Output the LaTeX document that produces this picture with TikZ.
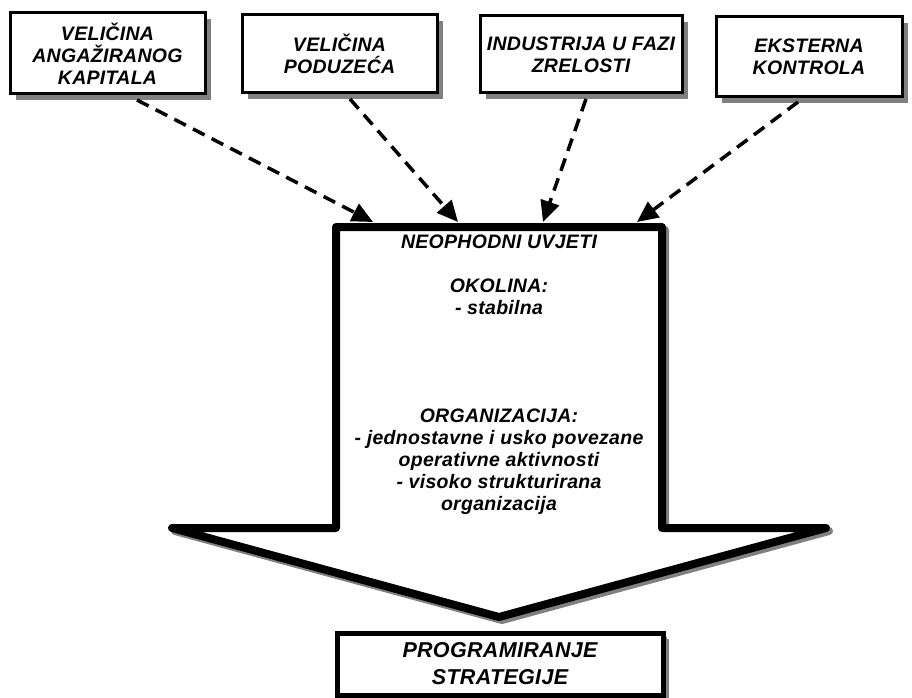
\documentclass[tikz,border=0pt]{standalone}
\usepackage{fontspec}
\setmainfont{Liberation Sans}[LetterSpace=1.5]
\usetikzlibrary{positioning, shadows, arrows.meta}

\tikzset{
  label-font/.style={font=\fontsize{19.5}{22}\selectfont\bfseries\itshape},
  factor-box/.style={draw, line width=3pt, fill=white, align=center,
    inner sep=0pt, label-font,
    drop shadow={shadow xshift=6pt, shadow yshift=-6pt, fill=black!50, opacity=1}},
  influence/.style={line width=3.5pt, dash pattern=on 13pt off 8pt,
    -{Triangle[length=21pt, width=19pt]}},
}

\begin{document}
\begin{tikzpicture}[x=1pt, y=-1pt]
    \useasboundingbox (0,0) rectangle (912,698);

    % factors on top
    \node[factor-box, minimum width=195pt, minimum height=81pt] (kapital)
      at (107.5,53.5) {VELIČINA\\ANGAŽIRANOG\\KAPITALA};
    \node[factor-box, minimum width=195pt, minimum height=78pt] (poduzece)
      at (339.5,54) {VELIČINA\\PODUZEĆA};
    \node[factor-box, minimum width=202pt, minimum height=77pt] (industrija)
      at (581,54.5) {INDUSTRIJA U FAZI\\ZRELOSTI};
    \node[factor-box, minimum width=186pt, minimum height=80pt] (kontrola)
      at (809,57) {EKSTERNA\\KONTROLA};

    % big arrow
    \draw[line width=8pt, line join=round, black!50, shift={(3,3)}]
      (336,227) -- (662,227) -- (662,528) -- (826,528) -- (499,617)
      -- (172,528) -- (336,528) -- cycle;
    \draw[line width=8pt, line join=round, fill=white]
      (336,227) -- (662,227) -- (662,528) -- (826,528) -- (499,617)
      -- (172,528) -- (336,528) -- cycle;

    \node[label-font] (uvjeti) at (499,242) {NEOPHODNI UVJETI};
    \node[label-font, align=center] (okolina) at (499,297)
      {OKOLINA:\\- stabilna};
    \node[label-font, align=center] (organizacija) at (499,462)
      {ORGANIZACIJA:\\- jednostavne i usko povezane\\operativne aktivnosti\\
       - visoko strukturirana\\organizacija};

    % influences
    \coordinate (kapital-out) at (137,100);
    \coordinate (poduzece-out) at (350,99);
    \coordinate (industrija-out) at (586,99);
    \coordinate (kontrola-out) at (798,102);
    \coordinate (kapital-in) at (373,222);
    \coordinate (poduzece-in) at (458,222);
    \coordinate (industrija-in) at (543,222);
    \coordinate (kontrola-in) at (637,222);
    \foreach \f in {kapital, poduzece, industrija, kontrola}{
      \draw[influence] (\f-out) -- (\f-in);
    }

    % result
    \node[factor-box, line width=5pt, minimum width=326pt, minimum height=62pt,
      font=\fontsize{21.5}{27}\selectfont\bfseries\itshape,
      drop shadow={shadow xshift=4pt, shadow yshift=-4pt, fill=black!50, opacity=1}]
      (programiranje) at (500,664) {PROGRAMIRANJE\\STRATEGIJE};
\end{tikzpicture}
\end{document}
